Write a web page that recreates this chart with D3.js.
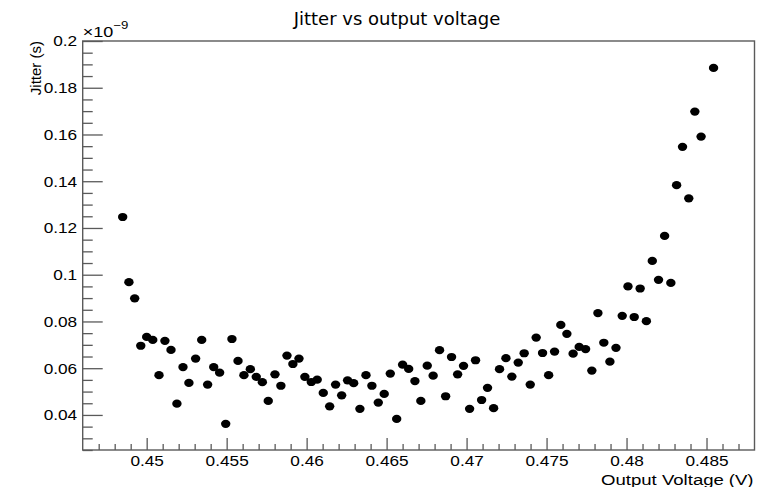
<!DOCTYPE html>
<html>
<head>
<meta charset="utf-8">
<script src="https://cdn.jsdelivr.net/npm/d3@7"></script>
<style>
html, body { margin: 0; padding: 0; background: #fff; }
svg { display: block; }
</style>
</head>
<body>
<svg id="chart" width="775" height="487"></svg>
<script>
// ---- data ----
const outputVoltage = [
  0.44850, 0.44889, 0.44925, 0.44963, 0.45000, 0.45038, 0.45077, 0.45114, 0.45152, 0.45189,
  0.45227, 0.45264, 0.45306, 0.45344, 0.45381, 0.45419, 0.45456, 0.45494, 0.45533, 0.45571,
  0.45608, 0.45648, 0.45685, 0.45723, 0.45760, 0.45802, 0.45839, 0.45877, 0.45914, 0.45952,
  0.45989, 0.46029, 0.46066, 0.46104, 0.46144, 0.46181, 0.46219, 0.46256, 0.46294, 0.46333,
  0.46371, 0.46408, 0.46448, 0.46485, 0.46523, 0.46563, 0.46600, 0.46638, 0.46677, 0.46714,
  0.46754, 0.46791, 0.46831, 0.46869, 0.46906, 0.46944, 0.46981, 0.47019, 0.47056, 0.47094,
  0.47131, 0.47169, 0.47206, 0.47246, 0.47283, 0.47323, 0.47360, 0.47398, 0.47435, 0.47475,
  0.47513, 0.47550, 0.47589, 0.47627, 0.47666, 0.47704, 0.47744, 0.47783, 0.47821, 0.47858,
  0.47896, 0.47934, 0.47973, 0.48009, 0.48048, 0.48085, 0.48124, 0.48161, 0.48200, 0.48238,
  0.48277, 0.48313, 0.48350, 0.48389, 0.48427, 0.48466, 0.48544
];
// jitter in units of 1e-9 s
const jitter = [
  0.1247, 0.0968, 0.0899, 0.0696, 0.0734, 0.0721, 0.0570, 0.0717, 0.0678, 0.0448,
  0.0605, 0.0537, 0.0641, 0.0721, 0.0530, 0.0605, 0.0581, 0.0362, 0.0725, 0.0631,
  0.0570, 0.0596, 0.0563, 0.0540, 0.0460, 0.0574, 0.0525, 0.0654, 0.0618, 0.0641,
  0.0563, 0.0541, 0.0551, 0.0494, 0.0437, 0.0530, 0.0484, 0.0548, 0.0536, 0.0426,
  0.0570, 0.0525, 0.0453, 0.0490, 0.0577, 0.0383, 0.0615, 0.0597, 0.0545, 0.0460,
  0.0611, 0.0568, 0.0677, 0.0480, 0.0648, 0.0574, 0.0610, 0.0426, 0.0634, 0.0464,
  0.0516, 0.0429, 0.0596, 0.0643, 0.0564, 0.0624, 0.0664, 0.0530, 0.0731, 0.0665,
  0.0570, 0.0671, 0.0785, 0.0747, 0.0662, 0.0691, 0.0682, 0.0590, 0.0836, 0.0709,
  0.0628, 0.0687, 0.0824, 0.0950, 0.0819, 0.0941, 0.0801, 0.1059, 0.0978, 0.1166,
  0.0965, 0.1383, 0.1547, 0.1327, 0.1698, 0.1591, 0.1885
];
const xTickValues = [0.45, 0.455, 0.46, 0.465, 0.47, 0.475, 0.48, 0.485];
const xTickLabels = ["0.45", "0.455", "0.46", "0.465", "0.47", "0.475", "0.48", "0.485"];
const yTickValues = [0.04, 0.06, 0.08, 0.1, 0.12, 0.14, 0.16, 0.18, 0.2];
const yTickLabels = ["0.04", "0.06", "0.08", "0.1", "0.12", "0.14", "0.16", "0.18", "0.2"];
const titleText = "Jitter vs output voltage";
const xTitle = "Output Voltage";
const xUnit = "(V)";
const yTitle = "Jitter (s)";

// ---- layout ----
const frame = { left: 82.7, right: 754.5, top: 41, bottom: 450 };
const axisColor = "#5a5a5a";
const sansFont = "'Liberation Sans', Arial, Helvetica, sans-serif";
const tickStretch = 1.15;
const titleStretch = 1.2;

const svg = d3.select("#chart");

const x = d3.scaleLinear().domain([0.446, 0.488]).range([frame.left, frame.right]);
const y = d3.scaleLinear().domain([0.025, 0.2]).range([frame.bottom, frame.top]);

// frame
svg.append("rect")
  .attr("x", frame.left).attr("y", frame.top)
  .attr("width", frame.right - frame.left).attr("height", frame.bottom - frame.top)
  .attr("fill", "none").attr("stroke", axisColor).attr("stroke-width", 1.4);

// minor ticks x
const xMinor = d3.range(0.447, 0.4875, 0.001).filter(v => !xTickValues.some(t => Math.abs(t - v) < 1e-7));
const gxMinor = svg.append("g").attr("transform", `translate(0,${frame.bottom})`)
  .call(d3.axisBottom(x).tickValues(xMinor).tickSize(-6).tickFormat(""));
gxMinor.select(".domain").remove();
gxMinor.selectAll("line").attr("stroke", axisColor).attr("stroke-width", 1.3);

// major ticks x
const gx = svg.append("g").attr("transform", `translate(0,${frame.bottom})`)
  .call(d3.axisBottom(x).tickValues(xTickValues).tickSize(-12).tickPadding(5.5)
    .tickFormat((d, i) => xTickLabels[i]));
gx.select(".domain").remove();
gx.selectAll("line").attr("stroke", axisColor).attr("stroke-width", 1.3);
gx.selectAll("text")
  .style("font-family", sansFont)
  .style("font-size", "15px")
  .attr("fill", "#000")
  .attr("transform", `scale(${tickStretch},1)`)
  .attr("x", 0);

// minor ticks y
const yMinor = d3.range(0.025, 0.2001, 0.005).filter(v => !yTickValues.some(t => Math.abs(t - v) < 1e-7));
const gyMinor = svg.append("g").attr("transform", `translate(${frame.left},0)`)
  .call(d3.axisLeft(y).tickValues(yMinor).tickSize(-10).tickFormat(""));
gyMinor.select(".domain").remove();
gyMinor.selectAll("line").attr("stroke", axisColor).attr("stroke-width", 1.3);

// major ticks y
const gy = svg.append("g").attr("transform", `translate(${frame.left},0)`)
  .call(d3.axisLeft(y).tickValues(yTickValues).tickSize(-20).tickPadding(5)
    .tickFormat((d, i) => yTickLabels[i]));
gy.select(".domain").remove();
gy.selectAll("line").attr("stroke", axisColor).attr("stroke-width", 1.3);
gy.selectAll("text")
  .style("font-family", sansFont)
  .style("font-size", "15px")
  .attr("fill", "#000")
  .attr("transform", `translate(-5.5,0) scale(${tickStretch},1)`)
  .attr("x", 0);

// exponent label
const expo = svg.append("text")
  .attr("transform", `translate(${frame.left},37) scale(${titleStretch},1)`)
  .style("font-family", sansFont)
  .style("font-size", "15px");
expo.append("tspan").text("\u00d710");
expo.append("tspan").attr("dy", -8).style("font-size", "11px").text("\u22129");

// title
svg.append("text")
  .attr("transform", `translate(397,25)`)
  .attr("text-anchor", "middle")
  .style("font-family", "'DejaVu Sans', sans-serif")
  .style("font-size", "18px")
  .text(titleText);

// x title (right aligned)
const xt = svg.append("text")
  .attr("transform", `translate(${frame.right - 1},484.5) scale(${titleStretch},1)`)
  .attr("text-anchor", "end")
  .style("font-family", sansFont)
  .style("font-size", "15.5px");
xt.append("tspan").text(xTitle);
xt.append("tspan").attr("dx", 4).text(xUnit);

// y title (rotated, aligned to top)
svg.append("text")
  .attr("transform", `translate(41,${frame.top}) rotate(-90)`)
  .attr("text-anchor", "end")
  .style("font-family", sansFont)
  .style("font-size", "15px")
  .text(yTitle);

// points
svg.append("g").selectAll("ellipse")
  .data(outputVoltage.map((v, i) => [v, jitter[i]]))
  .join("ellipse")
  .attr("cx", d => x(d[0]))
  .attr("cy", d => y(d[1]))
  .attr("rx", 4.7)
  .attr("ry", 4.1)
  .attr("fill", "#000");
</script>
</body>
</html>
